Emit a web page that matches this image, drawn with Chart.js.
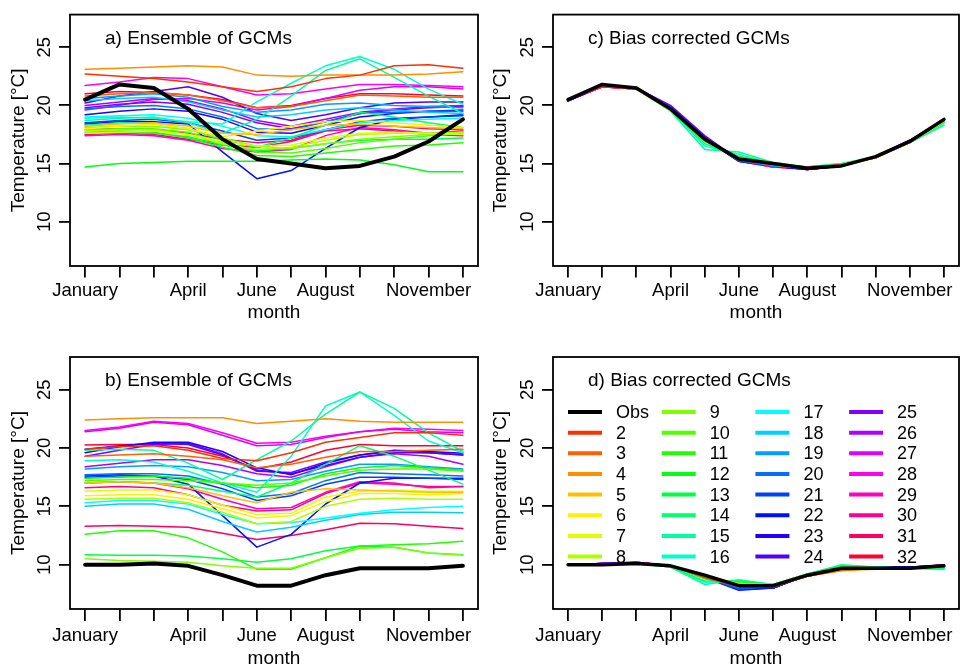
<!DOCTYPE html>
<html>
<head>
<meta charset="utf-8">
<script src="https://cdn.jsdelivr.net/npm/chart.js@4.4.1/dist/chart.umd.min.js"></script>
<style>
  body { margin: 0; background: #fff; width: 960px; height: 669px; position: relative; overflow: hidden; }
  canvas { position: absolute; }
</style>
</head>
<body>
<canvas id="chartA" width="480" height="335" style="left:0;top:0"></canvas>
<canvas id="chartC" width="480" height="335" style="left:480px;top:0"></canvas>
<canvas id="chartB" width="480" height="334" style="left:0;top:335px"></canvas>
<canvas id="chartD" width="480" height="334" style="left:480px;top:335px"></canvas>
<script>
// months on the x axis, R only printed some of the labels
const monthNumbers = [1, 2, 3, 4, 5, 6, 7, 8, 9, 10, 11, 12];
const monthLabels = ['January', '', '', 'April', '', 'June', '', 'August', '', '', 'November', ''];
const yTicks = [10, 15, 20, 25];
const seriesNames = ['Obs', '2', '3', '4', '5', '6', '7', '8', '9', '10', '11', '12', '13', '14', '15', '16',
  '17', '18', '19', '20', '21', '22', '23', '24', '25', '26', '27', '28', '29', '30', '31', '32'];

// observed series (a/c and b/d)
const obsA = [20.5, 21.8, 21.5, 19.7, 17.1, 15.4, 15.0, 14.6, 14.8, 15.6, 16.9, 18.8];
const obsB = [10.0, 10.0, 10.1, 9.9, 9.1, 8.2, 8.2, 9.1, 9.7, 9.7, 9.7, 9.9];

// a) raw GCMs, models 2..32
const gcmA = [
  [22.7, 22.5, 22.3, 22.0, 21.6, 21.2, 21.6, 22.3, 22.6, 23.4, 23.5, 23.2],
  [20.8, 21.0, 21.1, 20.9, 20.4, 19.8, 19.9, 20.4, 20.9, 20.8, 20.7, 20.7],
  [23.1, 23.2, 23.3, 23.4, 23.3, 22.6, 22.5, 22.6, 22.6, 22.6, 22.7, 22.9],
  [18.2, 18.4, 18.5, 18.2, 17.6, 17.5, 17.9, 18.3, 18.4, 18.2, 18.1, 18.0],
  [18.0, 18.2, 18.4, 18.0, 17.3, 17.8, 18.2, 18.6, 18.7, 18.5, 18.3, 18.1],
  [17.6, 17.7, 17.8, 17.5, 16.9, 16.5, 16.6, 17.2, 17.6, 17.7, 17.6, 17.5],
  [17.8, 17.9, 17.9, 17.5, 16.7, 16.2, 16.4, 17.0, 17.5, 17.6, 17.6, 17.7],
  [18.1, 18.2, 18.2, 17.9, 17.2, 16.5, 16.3, 16.7, 17.1, 17.3, 17.5, 17.7],
  [17.9, 18.0, 18.0, 17.7, 16.8, 16.0, 15.9, 16.3, 16.8, 17.1, 17.4, 17.6],
  [17.7, 17.8, 17.7, 17.2, 16.4, 15.7, 15.6, 15.9, 16.2, 16.5, 16.6, 16.8],
  [14.7, 15.0, 15.1, 15.2, 15.2, 15.2, 15.3, 15.4, 15.3, 14.9, 14.3, 14.3],
  [17.6, 17.7, 17.6, 17.3, 16.6, 16.1, 16.3, 16.7, 17.0, 17.1, 17.1, 17.2],
  [18.3, 18.5, 18.4, 18.0, 17.0, 16.4, 17.2, 18.3, 19.4, 19.0, 18.5, 18.1],
  [18.7, 18.9, 19.0, 18.5, 17.6, 18.8, 20.8, 23.0, 24.0, 22.4, 20.8, 19.3],
  [18.9, 19.0, 18.9, 18.6, 18.4, 20.3, 21.9, 23.4, 24.2, 23.1, 21.4, 20.1],
  [19.0, 19.1, 19.2, 18.9, 18.2, 17.4, 17.3, 17.9, 18.5, 18.7, 18.8, 18.9],
  [20.4, 20.6, 20.7, 20.3, 19.6, 19.0, 19.2, 19.6, 19.8, 19.6, 19.4, 19.3],
  [20.6, 20.8, 21.0, 20.7, 19.9, 19.4, 19.6, 20.1, 20.2, 20.0, 19.9, 19.8],
  [19.7, 19.9, 20.0, 19.7, 19.0, 18.0, 17.9, 18.6, 19.3, 19.4, 19.5, 19.5],
  [18.5, 18.7, 18.8, 18.5, 17.8, 17.0, 17.2, 17.9, 18.6, 18.9, 19.0, 19.1],
  [18.4, 18.6, 18.6, 18.4, 16.0, 13.7, 14.4, 16.3, 18.1, 18.8, 19.0, 19.2],
  [19.2, 19.5, 19.7, 19.5, 18.8, 17.7, 17.6, 18.3, 19.0, 19.3, 19.5, 19.6],
  [20.2, 20.8, 21.2, 21.6, 20.7, 19.3, 18.7, 19.2, 19.8, 20.2, 20.3, 20.3],
  [19.8, 20.1, 20.3, 20.1, 19.4, 18.5, 18.0, 18.6, 19.3, 19.6, 19.8, 19.9],
  [20.0, 20.3, 20.6, 20.4, 19.7, 18.7, 18.2, 18.8, 19.4, 19.7, 19.9, 20.0],
  [19.6, 20.0, 20.5, 20.6, 20.2, 19.6, 19.9, 20.6, 21.3, 21.6, 21.6, 21.4],
  [21.7, 22.0, 22.4, 22.3, 21.6, 20.9, 21.0, 21.4, 21.8, 21.8, 21.7, 21.6],
  [17.4, 17.5, 17.4, 17.0, 16.3, 16.0, 16.2, 17.4, 18.1, 17.9, 17.6, 17.8],
  [17.5, 17.6, 17.5, 17.1, 16.6, 16.4, 16.9, 17.8, 18.0, 17.8, 17.5, 17.4],
  [17.9, 18.0, 17.9, 17.6, 17.1, 16.8, 17.0, 17.9, 18.3, 18.2, 18.0, 17.9],
  [21.0, 21.2, 21.1, 20.9, 20.5, 19.8, 20.0, 20.6, 21.0, 21.0, 20.9, 20.8]
];

// b) raw GCMs, models 2..32
const gcmB = [
  [19.9, 20.1, 20.2, 19.8, 19.1, 18.9, 19.6, 20.5, 20.9, 21.3, 21.3, 21.1],
  [19.3, 19.4, 19.5, 19.3, 19.0, 18.3, 18.6, 19.2, 19.7, 19.7, 19.8, 19.9],
  [22.4, 22.5, 22.6, 22.6, 22.6, 22.1, 22.3, 22.5, 22.3, 22.2, 22.2, 22.2],
  [17.0, 17.1, 17.0, 16.6, 15.9, 15.3, 16.2, 16.5, 16.4, 16.3, 16.2, 16.2],
  [15.9, 16.0, 16.0, 15.6, 14.8, 14.0, 14.2, 15.4, 16.1, 16.1, 16.0, 16.1],
  [16.3, 16.4, 16.4, 16.0, 15.1, 14.3, 14.4, 15.8, 16.3, 16.4, 16.3, 16.3],
  [15.6, 15.7, 15.7, 15.3, 14.5, 13.5, 13.7, 15.0, 15.6, 15.7, 15.6, 15.6],
  [10.5, 10.35, 10.3, 10.2, 9.9, 9.7, 9.7, 10.6, 11.4, 11.5, 11.0, 10.8],
  [17.2, 17.3, 17.3, 17.2, 17.0, 16.8, 17.0, 17.6, 18.1, 18.2, 18.2, 18.0],
  [12.6, 12.9, 12.9, 12.3, 11.1, 9.6, 9.6, 10.6, 11.6, 11.7, 11.8, 12.0],
  [17.4, 17.5, 17.6, 17.4, 17.0, 16.6, 16.8, 17.8, 18.3, 18.5, 18.3, 18.1],
  [10.85, 10.8, 10.8, 10.75, 10.5, 10.2, 10.5, 11.2, 11.6, 11.5, 11.0, 10.85],
  [17.0, 17.1, 17.0, 16.8, 16.3, 15.8, 17.0, 18.6, 20.2, 19.3, 18.1, 16.9],
  [19.8, 19.9, 19.8, 18.7, 17.3, 19.0, 20.6, 22.9, 24.8, 23.4, 21.3, 19.7],
  [18.9, 19.0, 18.8, 18.0, 17.0, 16.2, 19.3, 23.6, 24.8, 22.8, 20.6, 19.6],
  [15.3, 15.5, 15.5, 15.2, 14.3, 13.5, 13.6, 14.0, 14.4, 14.7, 14.9, 15.0],
  [15.0, 15.2, 15.2, 14.75, 13.7, 12.8, 13.2, 13.8, 14.3, 14.5, 14.5, 14.45],
  [18.2, 18.4, 18.5, 18.4, 17.9, 17.2, 17.3, 18.0, 18.6, 18.6, 18.4, 18.2],
  [17.7, 17.8, 17.8, 17.6, 16.9, 15.8, 16.1, 17.2, 17.9, 17.8, 17.7, 17.6],
  [17.5, 17.6, 17.6, 17.3, 16.5, 15.5, 15.9, 16.9, 17.5, 17.5, 17.4, 17.3],
  [17.6, 17.7, 17.6, 16.9, 14.2, 11.5, 12.6, 15.2, 17.0, 17.4, 17.4, 17.4],
  [19.6, 20.1, 20.5, 20.5, 19.7, 18.3, 17.7, 18.7, 19.4, 19.8, 19.7, 19.55],
  [19.9, 20.2, 20.4, 20.3, 19.4, 18.1, 17.8, 18.5, 19.2, 19.6, 19.6, 19.4],
  [19.3, 19.8, 20.3, 20.4, 19.5, 18.0, 17.9, 18.8, 19.4, 19.7, 19.6, 19.4],
  [18.4, 18.7, 19.0, 19.0, 18.5, 17.8, 17.5, 18.4, 19.2, 19.5, 19.3, 18.6],
  [21.4, 21.7, 22.2, 22.0, 21.1, 20.2, 20.3, 20.9, 21.4, 21.6, 21.4, 21.3],
  [21.5, 21.8, 22.3, 22.1, 21.3, 20.4, 20.5, 21.0, 21.4, 21.7, 21.6, 21.5],
  [17.0, 17.1, 17.0, 16.5, 15.6, 14.8, 14.9, 16.2, 17.1, 17.0, 16.6, 16.7],
  [16.6, 16.7, 16.6, 16.0, 15.1, 14.6, 14.7, 16.1, 17.0, 16.9, 16.7, 16.7],
  [13.3, 13.35, 13.3, 13.2, 12.7, 12.15, 12.5, 13.0, 13.55, 13.5, 13.3, 13.1],
  [20.25, 20.3, 20.3, 20.0, 19.3, 18.2, 18.8, 19.8, 20.3, 20.2, 20.2, 20.2]
];

// c) bias corrected, models 2..32
const biasC = [
  [20.5, 21.6, 21.4, 19.6, 17.2, 15.3, 14.9, 14.7, 14.9, 15.5, 16.9, 18.7],
  [20.5, 21.7, 21.5, 19.7, 17.1, 15.4, 14.9, 14.6, 14.8, 15.6, 16.8, 18.7],
  [20.6, 21.7, 21.4, 19.7, 17.0, 15.4, 14.9, 14.7, 14.8, 15.6, 16.9, 18.8],
  [20.5, 21.7, 21.5, 19.6, 17.0, 15.5, 14.9, 14.6, 14.9, 15.6, 16.9, 18.7],
  [20.5, 21.8, 21.4, 19.7, 17.1, 15.4, 14.9, 14.6, 14.8, 15.6, 16.9, 18.8],
  [20.5, 21.7, 21.5, 19.7, 17.1, 15.4, 15.0, 14.6, 14.8, 15.5, 16.9, 18.7],
  [20.5, 21.7, 21.4, 19.6, 17.0, 15.5, 14.9, 14.6, 14.9, 15.6, 16.8, 18.6],
  [20.5, 21.7, 21.5, 19.7, 17.0, 15.4, 14.9, 14.6, 14.8, 15.6, 16.9, 18.7],
  [20.5, 21.7, 21.4, 19.6, 17.0, 15.5, 15.0, 14.6, 14.9, 15.6, 16.9, 18.7],
  [20.5, 21.7, 21.5, 19.7, 17.1, 15.4, 14.9, 14.6, 14.8, 15.6, 16.9, 18.7],
  [20.5, 21.7, 21.4, 19.6, 16.9, 15.6, 15.0, 14.7, 14.9, 15.6, 16.8, 18.6],
  [20.5, 21.7, 21.5, 19.7, 17.0, 15.5, 14.9, 14.6, 14.8, 15.6, 16.9, 18.7],
  [20.5, 21.7, 21.4, 19.6, 16.7, 15.6, 15.0, 14.7, 14.9, 15.6, 16.8, 18.5],
  [20.5, 21.7, 21.4, 19.5, 16.2, 16.0, 15.1, 14.7, 15.0, 15.5, 16.8, 18.3],
  [20.5, 21.7, 21.4, 19.6, 16.5, 15.8, 15.0, 14.7, 15.0, 15.6, 16.8, 18.3],
  [20.5, 21.7, 21.5, 19.7, 17.0, 15.5, 14.9, 14.6, 14.9, 15.6, 16.9, 18.5],
  [20.5, 21.7, 21.5, 19.7, 17.0, 15.4, 14.9, 14.6, 14.8, 15.6, 16.9, 18.6],
  [20.5, 21.7, 21.5, 19.7, 17.1, 15.3, 14.8, 14.6, 14.8, 15.6, 16.9, 18.7],
  [20.5, 21.7, 21.5, 19.8, 17.1, 15.3, 14.8, 14.6, 14.8, 15.6, 16.9, 18.7],
  [20.4, 21.7, 21.5, 19.8, 17.1, 15.2, 14.8, 14.6, 14.8, 15.6, 16.9, 18.7],
  [20.4, 21.7, 21.5, 19.8, 17.2, 15.2, 14.8, 14.6, 14.8, 15.6, 16.9, 18.7],
  [20.4, 21.7, 21.5, 19.8, 17.2, 15.2, 14.8, 14.5, 14.8, 15.6, 16.9, 18.7],
  [20.4, 21.7, 21.5, 19.9, 17.3, 15.3, 14.8, 14.5, 14.8, 15.6, 17.0, 18.7],
  [20.4, 21.7, 21.5, 20.0, 17.4, 15.3, 14.8, 14.5, 14.8, 15.6, 17.0, 18.7],
  [20.4, 21.7, 21.5, 19.9, 17.3, 15.3, 14.8, 14.5, 14.8, 15.6, 17.0, 18.6],
  [20.4, 21.6, 21.5, 19.8, 17.2, 15.2, 14.7, 14.5, 14.8, 15.6, 16.9, 18.6],
  [20.4, 21.6, 21.5, 19.7, 17.1, 15.2, 14.7, 14.6, 14.8, 15.6, 16.9, 18.6],
  [20.4, 21.6, 21.4, 19.7, 17.0, 15.3, 14.7, 14.6, 14.9, 15.5, 16.9, 18.6],
  [20.5, 21.6, 21.4, 19.7, 17.1, 15.3, 14.7, 14.6, 14.9, 15.5, 16.9, 18.7],
  [20.5, 21.6, 21.4, 19.7, 17.1, 15.3, 14.8, 14.7, 14.9, 15.5, 16.8, 18.7],
  [20.5, 21.6, 21.4, 19.7, 17.1, 15.3, 14.8, 14.7, 14.9, 15.5, 16.8, 18.7]
];

// d) bias corrected, models 2..32
const biasD = [
  [10.0, 10.0, 10.1, 9.9, 8.9, 8.1, 8.1, 9.0, 9.6, 9.7, 9.7, 9.9],
  [10.0, 10.0, 10.1, 9.9, 9.0, 8.1, 8.2, 9.0, 9.5, 9.7, 9.7, 9.9],
  [10.0, 10.0, 10.1, 9.9, 9.0, 8.2, 8.2, 9.0, 9.5, 9.6, 9.7, 9.9],
  [10.0, 10.0, 10.1, 9.9, 9.0, 8.2, 8.2, 9.1, 9.6, 9.7, 9.7, 9.9],
  [10.0, 10.0, 10.1, 9.9, 9.0, 8.2, 8.2, 9.1, 9.7, 9.7, 9.7, 9.9],
  [10.0, 10.0, 10.1, 9.9, 9.0, 8.3, 8.2, 9.1, 9.7, 9.7, 9.7, 9.9],
  [10.0, 10.0, 10.1, 9.9, 9.0, 8.3, 8.2, 9.1, 9.7, 9.7, 9.7, 9.9],
  [10.0, 10.0, 10.1, 9.9, 8.9, 8.4, 8.3, 9.1, 9.8, 9.7, 9.7, 9.9],
  [10.0, 10.0, 10.1, 9.9, 8.9, 8.4, 8.3, 9.1, 9.8, 9.7, 9.7, 9.9],
  [10.0, 10.0, 10.1, 9.9, 8.9, 8.4, 8.3, 9.1, 9.8, 9.7, 9.7, 9.8],
  [10.0, 10.0, 10.1, 9.9, 8.8, 8.5, 8.3, 9.1, 9.8, 9.7, 9.7, 9.8],
  [10.0, 10.0, 10.1, 9.9, 8.8, 8.5, 8.3, 9.1, 9.8, 9.7, 9.7, 9.8],
  [10.0, 10.0, 10.1, 9.8, 8.6, 8.6, 8.3, 9.2, 9.9, 9.7, 9.7, 9.7],
  [10.0, 10.0, 10.1, 9.8, 8.3, 8.7, 8.3, 9.2, 10.0, 9.8, 9.7, 9.6],
  [10.0, 10.0, 10.1, 9.8, 8.5, 8.6, 8.3, 9.2, 9.9, 9.8, 9.7, 9.6],
  [10.0, 10.0, 10.1, 9.9, 8.9, 8.3, 8.2, 9.1, 9.7, 9.7, 9.7, 9.7],
  [10.0, 10.0, 10.1, 9.9, 8.9, 8.2, 8.2, 9.1, 9.7, 9.7, 9.7, 9.8],
  [10.0, 10.0, 10.1, 9.9, 8.9, 8.1, 8.1, 9.1, 9.7, 9.7, 9.7, 9.9],
  [10.0, 10.0, 10.1, 9.9, 8.9, 8.0, 8.1, 9.1, 9.7, 9.7, 9.7, 9.9],
  [10.0, 10.0, 10.1, 9.9, 8.9, 7.9, 8.1, 9.1, 9.7, 9.8, 9.7, 9.9],
  [10.0, 10.0, 10.1, 9.9, 8.9, 7.8, 8.0, 9.1, 9.7, 9.8, 9.7, 9.9],
  [10.0, 10.1, 10.1, 9.9, 9.0, 7.9, 8.0, 9.1, 9.7, 9.8, 9.8, 9.9],
  [10.0, 10.1, 10.1, 9.9, 9.0, 8.0, 8.0, 9.1, 9.7, 9.8, 9.8, 9.9],
  [10.0, 10.1, 10.1, 9.9, 9.0, 8.0, 8.0, 9.2, 9.7, 9.8, 9.8, 9.9],
  [10.0, 10.1, 10.1, 9.9, 9.0, 8.0, 8.0, 9.1, 9.7, 9.8, 9.8, 9.9],
  [10.0, 10.1, 10.2, 9.9, 9.0, 8.0, 8.0, 9.1, 9.7, 9.8, 9.8, 10.0],
  [10.0, 10.1, 10.2, 9.9, 9.0, 7.9, 8.0, 9.1, 9.7, 9.8, 9.7, 10.0],
  [10.0, 10.1, 10.2, 9.9, 9.0, 7.9, 8.1, 9.1, 9.6, 9.7, 9.7, 10.0],
  [10.0, 10.1, 10.2, 9.9, 9.0, 8.0, 8.1, 9.1, 9.6, 9.7, 9.7, 10.0],
  [10.0, 10.0, 10.2, 9.9, 9.0, 8.0, 8.1, 9.0, 9.6, 9.7, 9.7, 10.0],
  [10.0, 10.0, 10.2, 9.9, 9.0, 8.0, 8.1, 9.0, 9.6, 9.7, 9.6, 10.0]
];

// R rainbow(32)[2:32]
const gcmColors = gcmA.map((_, i) => 'hsl(' + ((i + 1) * 360 / 32) + ', 100%, 50%)');

Chart.defaults.font.family = '"Liberation Sans", Arial, Helvetica, sans-serif';
Chart.defaults.color = '#000';

// box round the plot, the panel title and (for d) the legend
const framePlugin = {
    id: 'frame',
    afterDraw(chart, args, opts) {
        const { ctx, chartArea: a } = chart;
        ctx.save();
        ctx.strokeStyle = '#000';
        ctx.lineWidth = 1.8;
        ctx.strokeRect(a.left, a.top, a.right - a.left, a.bottom - a.top);
        ctx.fillStyle = '#000';
        ctx.textBaseline = 'middle';
        ctx.textAlign = 'left';
        ctx.font = '19px "Liberation Sans", Arial, sans-serif';
        ctx.fillText(opts.title, a.left + 35, a.top + 24);
        if (opts.legend) {
            ctx.font = '18px "Liberation Sans", Arial, sans-serif';
            ctx.lineWidth = 4;
            chart.data.datasets.forEach((ds, i) => {
                const col = Math.floor(i / 8), row = i % 8;
                const x0 = a.left + 15 + col * 93.7;
                const y0 = a.top + 55 + row * 20.65;
                ctx.strokeStyle = ds.borderColor;
                ctx.beginPath();
                ctx.moveTo(x0, y0);
                ctx.lineTo(x0 + 34, y0);
                ctx.stroke();
                ctx.fillText(ds.label, x0 + 48, y0 + 1);
            });
        }
        ctx.restore();
    }
};

function makeChart(id, obs, models, opt) {
    const datasets = [{ label: 'Obs', data: obs, borderColor: '#000', borderWidth: opt.obsWidth }];
    models.forEach((row, i) => {
        datasets.push({ label: seriesNames[i + 1], data: row, borderColor: gcmColors[i], borderWidth: 1.5 });
    });
    return new Chart(document.getElementById(id), {
        type: 'line',
        data: { labels: monthNumbers, datasets: datasets },
        options: {
            responsive: false,
            animation: false,
            devicePixelRatio: 1,
            layout: { padding: { left: 0, top: opt.top, right: opt.right, bottom: 0 } },
            elements: {
                point: { radius: 0 },
                line: { tension: 0, borderJoinStyle: 'round', borderCapStyle: 'round' }
            },
            plugins: {
                legend: { display: false },
                tooltip: { enabled: false },
                frame: { title: opt.title, legend: opt.legend }
            },
            scales: {
                x: {
                    type: 'linear',
                    min: 0.56,
                    max: 12.44,
                    afterBuildTicks: s => { s.ticks = monthNumbers.map(v => ({ value: v })); },
                    afterFit: s => { s.height = opt.xHeight; },
                    grid: { drawOnChartArea: false, tickLength: opt.xTick, color: '#000', lineWidth: 1.8 },
                    border: { display: false },
                    ticks: {
                        autoSkip: false, maxRotation: 0, minRotation: 0, padding: opt.xPad,
                        font: { size: 18.5 },
                        callback: v => monthLabels[v - 1]
                    },
                    title: { display: true, text: 'month', font: { size: 19, lineHeight: 1 }, padding: { top: 0, bottom: opt.xTitle } }
                },
                y: {
                    min: 6.2,
                    max: 27.8,
                    afterBuildTicks: s => { s.ticks = yTicks.map(v => ({ value: v })); },
                    afterFit: s => { s.width = opt.yWidth; },
                    grid: { drawOnChartArea: false, tickLength: 11, color: '#000', lineWidth: 1.8 },
                    border: { display: false },
                    ticks: { minRotation: 90, maxRotation: 90, crossAlign: 'center', padding: 3.5, font: { size: 18.5 } },
                    title: { display: true, text: 'Temperature [°C]', font: { size: 19, lineHeight: 1 }, padding: { top: opt.yTitle, bottom: 0 } }
                }
            }
        },
        plugins: [framePlugin]
    });
}

makeChart('chartA', obsA, gcmA, { title: 'a) Ensemble of GCMs', obsWidth: 4, top: 11, right: 2, yWidth: 70, xHeight: 69, xTick: 11.5, xPad: 2, xTitle: 12.5, yTitle: 9.5 });
makeChart('chartC', obsA, biasC, { title: 'c) Bias corrected GCMs', obsWidth: 3.5, top: 11, right: 1, yWidth: 73, xHeight: 69, xTick: 11.5, xPad: 2, xTitle: 12.5, yTitle: 11.5 });
makeChart('chartB', obsB, gcmB, { title: 'b) Ensemble of GCMs', obsWidth: 4, top: 22, right: 2, yWidth: 70, xHeight: 60, xTick: 12, xPad: 4, xTitle: 0.5, yTitle: 9.5 });
makeChart('chartD', obsB, biasD, { title: 'd) Bias corrected GCMs', obsWidth: 3.5, top: 22, right: 1, yWidth: 73, xHeight: 60, xTick: 12, xPad: 4, xTitle: 0.5, yTitle: 11.5, legend: true });
</script>
</body>
</html>
